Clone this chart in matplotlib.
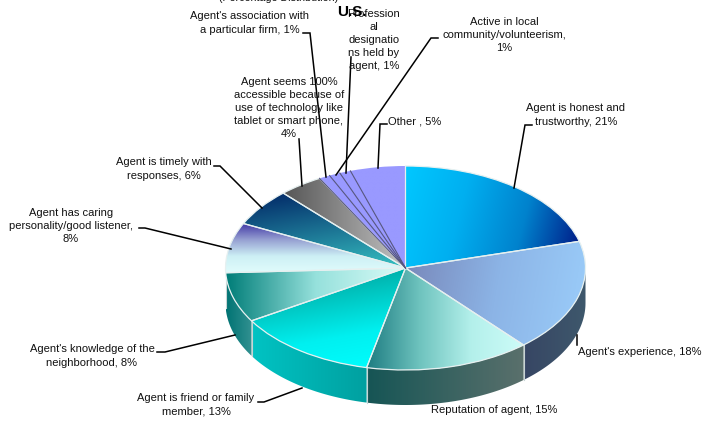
import matplotlib
matplotlib.use("Agg")
import matplotlib.pyplot as plt
from matplotlib.patches import Polygon
import numpy as np

plt.rcParams['font.family'] = ['Liberation Sans', 'DejaVu Sans']

W, H = 717, 421
CX, CY, RX, RY = 405.5, 268, 180, 102
DEPTH = 35 / RY

labels = ["Agent is honest and\ntrustworthy, 21%", "Agent's experience, 18%", "Reputation of agent, 15%",
          "Agent is friend or family\nmember, 13%", "Agent's knowledge of the\nneighborhood, 8%",
          "Agent has caring\npersonality/good listener,\n8%", "Agent is timely with\nresponses, 6%",
          "Agent seems 100%\naccessible because of\nuse of technology like\ntablet or smart phone,\n4%",
          "Agent's association with\na particular firm, 1%",
          "Profession\nal\ndesignatio\nns held by\nagent, 1%",
          "Active in local\ncommunity/volunteerism,\n1%", "Other , 5%"]
values = [21, 18, 15, 13, 8, 8, 6, 4, 1, 1, 1, 5]

# label centres in pixels
label_x = [576, 640, 494, 196, 92, 71, 164, 289, 250, 374, 504, 415]
label_y = [115, 352, 410, 405, 356, 226, 169, 108, 23, 40, 35, 121]

leaders = [[(532, 125), (525, 125), (514, 188)],
           [(577, 345), (577, 335)],
           [],
           [(258, 402), (264, 402), (302, 388)],
           [(157, 352), (165, 352), (235, 335)],
           [(139, 228), (145, 228), (231, 249)],
           [(214, 166), (220, 166), (262, 208)],
           [(299, 139), (302, 186)],
           [(303, 33), (310, 33), (326, 177)],
           [(351, 57), (346, 173)],
           [(438, 38), (431, 38), (336, 175)],
           [(387, 124), (380, 124), (378, 168)]]

# gradient stops and direction (degrees) for the top of each slice
top_stops = [[(0, 200, 255), (0, 175, 240), (0, 130, 205), (0, 20, 130)],
             [(120, 135, 185), (140, 180, 230), (155, 205, 250)],
             [(30, 125, 130), (110, 195, 190), (180, 240, 235), (205, 252, 248)],
             [(0, 145, 140), (0, 195, 190), (0, 240, 240), (0, 255, 255)],
             [(0, 125, 120), (150, 225, 220), (220, 252, 248)],
             [(65, 55, 165), (150, 160, 210), (205, 240, 245), (225, 252, 252)],
             [(0, 35, 100), (55, 195, 195)],
             [(85, 85, 85), (195, 195, 195)],
             [(153, 153, 255)], [(153, 153, 255)], [(153, 153, 255)], [(153, 153, 255)]]
top_angle = [-15, -10, 0, -80, 0, -90, -80, 0, 0, 0, 0, 0]
wall_stops = {1: [(55, 70, 100), (62, 88, 108)],
              2: [(22, 85, 85), (90, 112, 108)],
              3: [(0, 195, 195), (0, 160, 160)],
              4: [(0, 115, 115), (50, 145, 145)],
              5: [(0, 115, 115), (0, 115, 115)],
              0: [(62, 88, 108), (62, 88, 108)]}


def fill_gradient(ax, patch, stops, angle, zorder):
    box = patch.get_path().transformed(patch.get_patch_transform()).get_extents()
    xs, ys = np.meshgrid(np.linspace(0, 1, 160), np.linspace(0, 1, 160))
    a = np.deg2rad(angle)
    t = xs * np.cos(a) * box.width * RX + ys * np.sin(a) * box.height * RY
    t = (t - t.min()) / max(t.max() - t.min(), 1e-9)
    pos = np.linspace(0, 1, len(stops))
    rgb = np.dstack([np.interp(t, pos, [s[i] / 255 for s in stops]) for i in range(3)])
    im = ax.imshow(rgb, extent=(box.x0, box.x1, box.y0, box.y1), origin="lower",
                   aspect="auto", interpolation="bilinear", zorder=zorder)
    im.set_clip_path(patch)


fig = plt.figure(figsize=(W / 100, H / 100), dpi=100)
ax = fig.add_axes([0, 0, 1, 1])
wedges, _ = ax.pie(values, startangle=90, counterclock=False, radius=1)
for w in wedges:
    w.set_zorder(5)

edges = 90 - np.cumsum([0] + values) / sum(values) * 360

for i, w in enumerate(wedges):
    # wall, only the part of the slice on the near side
    hi, lo = min(edges[i], 0), max(edges[i + 1], -180)
    if hi > lo:
        th = np.deg2rad(np.linspace(hi, lo, 60))
        top = np.column_stack([np.cos(th), np.sin(th)])
        pts = np.vstack([top, (top - [0, DEPTH])[::-1]])
        wall = Polygon(pts, closed=True, facecolor="none", edgecolor="none", zorder=2)
        ax.add_patch(wall)
        fill_gradient(ax, wall, wall_stops[i], 0, 1)
        if hi < 0:
            ax.plot([top[0, 0]] * 2, [top[0, 1], top[0, 1] - DEPTH], color="#c8d4d4", lw=0.8, zorder=3)
    # top of slice
    stops = top_stops[i] if len(top_stops[i]) > 1 else top_stops[i] * 2
    fill_gradient(ax, w, stops, top_angle[i], 4)
    w.set_facecolor("none")
    if i >= 8:
        # purple slices only get their radial edges
        w.set_edgecolor("none")
        a = np.deg2rad(edges[i])
        ax.plot([0, np.cos(a)], [0, np.sin(a)], color="#55557f", lw=0.8, zorder=6)
    else:
        w.set_edgecolor("#e6f0f0")
        w.set_linewidth(0.9)

ax.set_aspect("auto")
ax.set_xlim(-CX / RX, (W - CX) / RX)
ax.set_ylim((CY - H) / RY, CY / RY)
ax.axis("off")

# overlay in pixel coordinates for text and leader lines
ov = fig.add_axes([0, 0, 1, 1], facecolor="none")
ov.set_xlim(0, W)
ov.set_ylim(H, 0)
ov.axis("off")

for line in leaders:
    if line:
        px, py = zip(*line)
        ov.plot(px, py, color="black", lw=1.1, solid_joinstyle="miter")

for txt, x, y in zip(labels, label_x, label_y):
    ov.text(x, y, txt, ha="center", va="center", fontsize=8, linespacing=1.38, color="#111111")

ov.text(352, 12, "U.S.", ha="center", va="center", fontsize=11, fontweight="bold", color="black")
ov.text(279, -2, "(Percentage Distribution)", ha="center", va="center", fontsize=7.7, color="#111111")

fig.savefig("out.png", dpi=100)
